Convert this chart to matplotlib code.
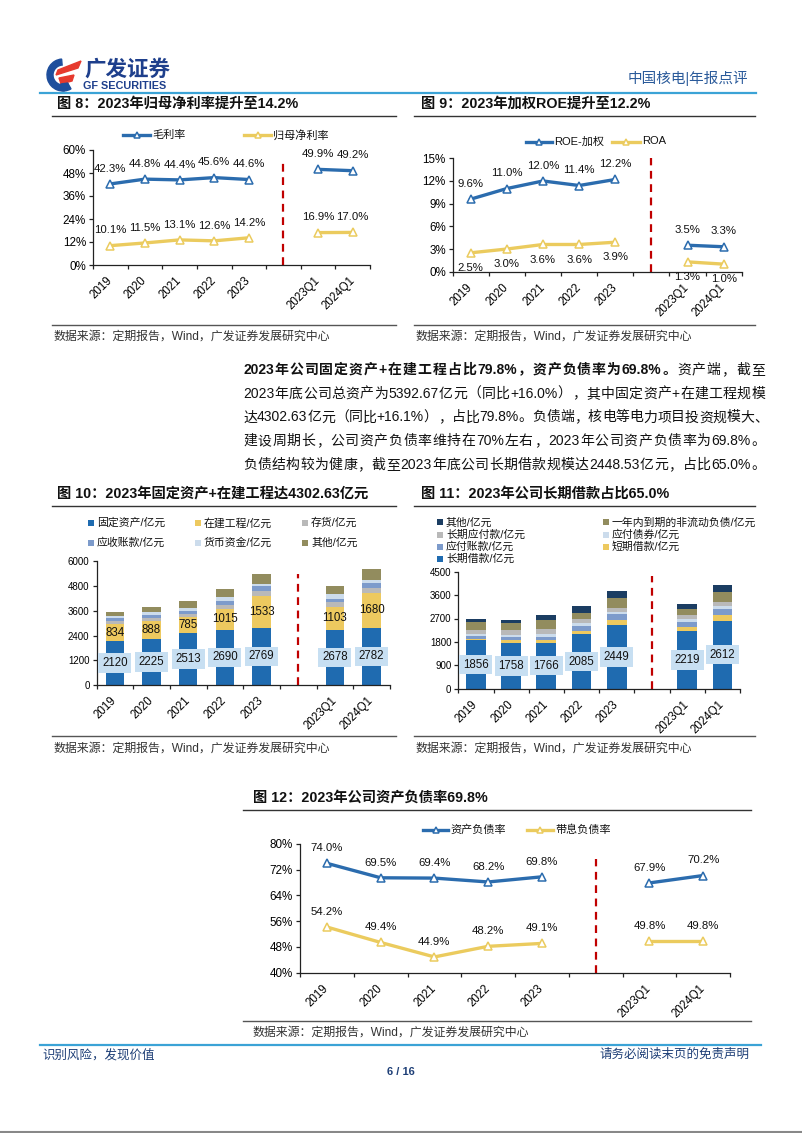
import numpy as np
import matplotlib
matplotlib.use('Agg')
import matplotlib.pyplot as plt
from matplotlib.patches import Rectangle, Wedge, Polygon
from matplotlib.lines import Line2D
import matplotlib.ticker as mticker

plt.rcParams['font.family'] = ['Liberation Sans', 'Noto Sans CJK SC', 'DejaVu Sans']
plt.rcParams['axes.unicode_minus'] = False

W, H = 802, 1133

# ---------------- data ----------------
periods = ['2019', '2020', '2021', '2022', '2023', '2023Q1', '2024Q1']

# Fig 8
gross_margin = [42.3, 44.8, 44.4, 45.6, 44.6, 49.9, 49.2]
net_margin = [10.1, 11.5, 13.1, 12.6, 14.2, 16.9, 17.0]
# Fig 9
roe_weighted = [9.6, 11.0, 12.0, 11.4, 12.2, 3.5, 3.3]
roa = [2.5, 3.0, 3.6, 3.6, 3.9, 1.3, 1.0]
# Fig 10 (亿元)
fixed_assets = [2120, 2225, 2513, 2690, 2769, 2678, 2782]
construction = [834, 888, 785, 1015, 1533, 1103, 1680]
inventory = [160, 160, 160, 190, 260, 226, 260]
receivables = [130, 130, 130, 190, 226, 162, 226]
cash = [113, 145, 160, 170, 97, 226, 162]
other_assets = [194, 243, 307, 395, 485, 388, 534]
# Fig 11 (亿元)
lt_loans = [1856, 1758, 1766, 2085, 2449, 2219, 2612]
st_loans = [65, 128, 90, 128, 205, 167, 205]
acc_payable = [90, 90, 115, 190, 205, 190, 230]
bonds_payable = [90, 100, 150, 128, 100, 90, 128]
lt_payables = [165, 190, 190, 140, 128, 167, 154]
current_ncl = [295, 280, 320, 255, 400, 218, 385]
other_liab = [115, 115, 205, 245, 270, 205, 270]
# Fig 12
debt_ratio = [74.0, 69.5, 69.4, 68.2, 69.8, 67.9, 70.2]
int_debt_ratio = [54.2, 49.4, 44.9, 48.2, 49.1, 49.8, 49.8]

# ---------------- style ----------------
BLUE = '#2B6CAE'
YEL = '#EBCB5E'
RED = '#C00000'
C_FIX = '#1F6BB0'
C_CON = '#EDC95F'
C_INV = '#B9B9B9'
C_REC = '#7D9BCB'
C_CASH = '#CCDCEC'
C_OTH = '#928C5E'
C_NAVY = '#1B3D62'
LBL_BOX = '#C7DFF2'
TXT = '#111111'
SRC = '#333333'

fig = plt.figure(figsize=(W / 100, H / 100), dpi=100)
fig.patch.set_facecolor('white')
renderer = fig.canvas.get_renderer()


def fx(x):
    return x / W


def fy(y):
    return 1 - y / H


def add_ax(l, t, r, b):
    return fig.add_axes([fx(l), fy(b), (r - l) / W, (b - t) / H])


def hline(x0, x1, y, color, lw):
    fig.add_artist(Line2D([fx(x0), fx(x1)], [fy(y), fy(y)], transform=fig.transFigure,
                          color=color, lw=lw))


def ftext(x, y, s, **kw):
    kw.setdefault('ha', 'left')
    kw.setdefault('va', 'center')
    return fig.text(fx(x), fy(y), s, **kw)


positions = np.array([i if i < 5 else i + 1 for i in range(len(periods))])


def style_axes(ax, ylim, ystep, fmt, ytick_fs, dash_top):
    ax.set_xlim(-0.5, 7.5)
    ax.set_ylim(*ylim)
    ax.set_yticks(np.arange(ylim[0], ylim[1] + 1e-9, ystep))
    ax.yaxis.set_major_formatter(mticker.FuncFormatter(fmt))
    for s in ('top', 'right'):
        ax.spines[s].set_visible(False)
    for s in ('left', 'bottom'):
        ax.spines[s].set_linewidth(0.9)
        ax.spines[s].set_color('#222222')
    ax.set_xticks(positions)
    ax.set_xticklabels(periods, rotation=45, ha='right', va='center', rotation_mode='anchor',
                       fontsize=8.3)
    ax.tick_params(axis='x', which='major', length=0, pad=10)
    ax.set_xticks(np.arange(-0.5, 8, 1), minor=True)
    ax.tick_params(axis='x', which='minor', length=3, width=0.9, direction='out', color='#222222')
    ax.tick_params(axis='y', length=3, width=0.9, direction='out', labelsize=ytick_fs, pad=2,
                   color='#222222')
    ax.axvline(5, ymin=0, ymax=dash_top, color=RED, ls=(0, (3.5, 2.5)), lw=1.6)
    ax.set_facecolor('none')


def line_chart(rect, s1, s2, ylim, ystep, off1, off2, dash_top):
    ax = add_ax(*rect)
    for s, c in ((s1, BLUE), (s2, YEL)):
        s = np.array(s, dtype=float)
        for sl in (slice(0, 5), slice(5, 7)):
            ax.plot(positions[sl], s[sl], color=c, lw=2.4, marker='^', ms=5.5,
                    mfc='white', mec=c, mew=1.1, clip_on=False, zorder=3)
    for s, off in ((s1, off1), (s2, off2)):
        for p, v in zip(positions, s):
            ax.annotate(f'{v:.1f}%', (p, v), xytext=(0, off), textcoords='offset points',
                        ha='center', va='center', fontsize=8.2, color=TXT, zorder=4)
    style_axes(ax, ylim, ystep, lambda v, p: f'{v:.0f}%', 8.4, dash_top)
    return ax


def line_legend(y, entries):
    for x0, x1, color, label in entries:
        fig.add_artist(Line2D([fx(x0), fx(x1)], [fy(y), fy(y)], transform=fig.transFigure,
                              color=color, lw=2.4))
        fig.add_artist(Line2D([fx((x0 + x1) / 2)], [fy(y)], transform=fig.transFigure,
                              color=color, marker='^', ms=5, mfc='white', mec=color, mew=1.1))
        ftext(x1 + 2, y, label, fontsize=8.0, color=TXT)


def bar_chart(rect, stack, colors, ylim, ystep, width, box_idx, plain_idx, dash_top):
    ax = add_ax(*rect)
    bottom = np.zeros(len(periods))
    centers = []
    for vals, c in zip(stack, colors):
        vals = np.array(vals, dtype=float)
        ax.bar(positions, vals, width=width, bottom=bottom, color=c, edgecolor='none', zorder=2)
        centers.append(bottom + vals / 2)
        bottom = bottom + vals
    for p, v, cy in zip(positions, stack[box_idx], centers[box_idx]):
        ax.text(p, cy, f'{v:.0f}', ha='center', va='center', fontsize=8.3, color=TXT, zorder=5,
                bbox=dict(boxstyle='square,pad=0.32', fc=LBL_BOX, ec='none'))
    if plain_idx is not None:
        for p, v, cy in zip(positions, stack[plain_idx], centers[plain_idx]):
            ax.text(p, cy, f'{v:.0f}', ha='center', va='center', fontsize=8.3, color=TXT,
                    zorder=5)
    style_axes(ax, ylim, ystep, lambda v, p: f'{v:.0f}', 7.0, dash_top)
    return ax


def square_legend(entries):
    for x, y, color, label in entries:
        fig.add_artist(Rectangle((fx(x), fy(y + 3)), 6 / W, 6 / H, transform=fig.transFigure,
                                 color=color, ec='none'))
        ftext(x + 9, y, label, fontsize=7.8, color=TXT)


def tokenize(segments):
    toks = []
    for s, wgt in segments:
        buf = ''
        for ch in s:
            if ord(ch) < 128:
                buf += ch
            else:
                if buf:
                    toks.append((buf, wgt))
                    buf = ''
                toks.append((ch, wgt))
        if buf:
            toks.append((buf, wgt))
    return toks


def justified_line(y, segments, x0, x1, fs):
    toks = tokenize(segments)
    objs = []
    widths = []
    for tk, wgt in toks:
        t = ftext(x0, y, tk, fontsize=fs, fontweight=wgt, color=TXT)
        objs.append(t)
        widths.append(t.get_window_extent(renderer=renderer).width)
    total = sum(widths)
    gap = max(0.0, (x1 - x0 - total) / max(1, len(toks) - 1))
    x = x0
    for t, w in zip(objs, widths):
        t.set_x(fx(x))
        x += w + gap


# ---------------- header ----------------
logo_ax = fig.add_axes([fx(44), fy(92), 40 / W, 36 / H])
logo_ax.set_xlim(0, 40)
logo_ax.set_ylim(0, 36)
logo_ax.set_aspect('equal')
logo_ax.axis('off')
logo_ax.add_patch(Wedge((19, 17), 16, 95, 300, width=6, color='#1E4E9C'))
logo_ax.add_patch(Polygon([[14, 22], [37, 31], [34, 24], [12, 17]], closed=True, color='#E63A2E'))
logo_ax.add_patch(Polygon([[15, 14], [30, 17], [28, 11], [17, 8]], closed=True, color='#E63A2E'))
logo_ax.add_patch(Polygon([[17, 8], [24, 9], [20, 1], [15, 2]], closed=True, color='#1E4E9C'))

ftext(84, 70, '广发证券', fontsize=15.5, fontweight='bold', color='#1E3F8C')
ftext(83, 86, 'GF SECURITIES', fontsize=7.8, fontweight='bold', color='#1E3F8C')
ftext(748, 78, '中国核电|年报点评', ha='right', fontsize=10.5, color='#2A5A9A')
hline(40, 756, 93, '#3BA3D6', 1.6)

# ---------------- Fig 8 ----------------
ftext(57, 104, '图 8：2023年归母净利率提升至14.2%', fontsize=10.3, fontweight='bold', color=TXT)
hline(52, 396, 115.5, '#333333', 1.0)
line_legend(135, [(123, 150, BLUE, '毛利率'), (244, 271, YEL, '归母净利率')])
line_chart((93, 150, 370, 265), gross_margin, net_margin, (0, 60), 12, 11, 11, 0.89)
hline(52, 396, 325, '#555555', 1.0)
ftext(53, 337, '数据来源：定期报告，Wind，广发证券发展研究中心', fontsize=8.6, color=SRC)

# ---------------- Fig 9 ----------------
ftext(421, 104, '图 9：2023年加权ROE提升至12.2%', fontsize=10.3, fontweight='bold', color=TXT)
hline(414, 755, 115.5, '#333333', 1.0)
line_legend(141.5, [(526, 552, BLUE, 'ROE-加权'), (612, 640, YEL, 'ROA')])
line_chart((452.7, 158.3, 741.7, 271.7), roe_weighted, roa, (0, 15), 3, 11, -11, 1.0)
hline(414, 755, 325, '#555555', 1.0)
ftext(415, 337, '数据来源：定期报告，Wind，广发证券发展研究中心', fontsize=8.6, color=SRC)

# ---------------- paragraph ----------------
PX0, PX1, PFS = 243, 765, 10.0
para = [
    [('2023年公司固定资产+在建工程占比79.8%，资产负债率为69.8%。', 'bold'), ('资产端，截至', 'normal')],
    [('2023年底公司总资产为5392.67亿元（同比+16.0%），其中固定资产+在建工程规模', 'normal')],
    [('达4302.63亿元（同比+16.1%），占比79.8%。负债端，核电等电力项目投资规模大、', 'normal')],
    [('建设周期长，公司资产负债率维持在70%左右，2023年公司资产负债率为69.8%。', 'normal')],
    [('负债结构较为健康，截至2023年底公司长期借款规模达2448.53亿元，占比65.0%。', 'normal')],
]
for i, segs in enumerate(para):
    justified_line(370 + i * 23.7, segs, PX0, PX1, PFS)

# ---------------- Fig 10 ----------------
ftext(57, 494, '图 10：2023年固定资产+在建工程达4302.63亿元', fontsize=10.3, fontweight='bold',
      color=TXT)
hline(52, 396, 505.5, '#333333', 1.0)
square_legend([
    (88, 523, C_FIX, '固定资产/亿元'), (195, 523, C_CON, '在建工程/亿元'), (302, 523, C_INV, '存货/亿元'),
    (88, 543, C_REC, '应收账款/亿元'), (195, 543, C_CASH, '货币资金/亿元'), (302, 543, C_OTH, '其他/亿元'),
])
bar_chart((96.5, 561.3, 390, 685),
          [fixed_assets, construction, inventory, receivables, cash, other_assets],
          [C_FIX, C_CON, C_INV, C_REC, C_CASH, C_OTH],
          (0, 6000), 1200, 0.5, 0, 1, 0.9)
hline(52, 396, 736, '#555555', 1.0)
ftext(53, 749, '数据来源：定期报告，Wind，广发证券发展研究中心', fontsize=8.6, color=SRC)

# ---------------- Fig 11 ----------------
ftext(421, 494, '图 11：2023年公司长期借款占比65.0%', fontsize=10.3, fontweight='bold', color=TXT)
hline(414, 755, 505.5, '#333333', 1.0)
square_legend([
    (437, 522.3, C_NAVY, '其他/亿元'), (603, 522.3, C_OTH, '一年内到期的非流动负债/亿元'),
    (437, 534.5, C_INV, '长期应付款/亿元'), (603, 534.5, C_CASH, '应付债券/亿元'),
    (437, 546.7, C_REC, '应付账款/亿元'), (603, 546.7, C_CON, '短期借款/亿元'),
    (437, 559, C_FIX, '长期借款/亿元'),
])
bar_chart((458.3, 571.7, 740, 688.7),
          [lt_loans, st_loans, acc_payable, bonds_payable, lt_payables, current_ncl, other_liab],
          [C_FIX, C_CON, C_REC, C_CASH, C_INV, C_OTH, C_NAVY],
          (0, 4500), 900, 0.56, 0, None, 0.96)
hline(414, 755, 736, '#555555', 1.0)
ftext(415, 749, '数据来源：定期报告，Wind，广发证券发展研究中心', fontsize=8.6, color=SRC)

# ---------------- Fig 12 ----------------
ftext(253, 798, '图 12：2023年公司资产负债率69.8%', fontsize=10.3, fontweight='bold', color=TXT)
hline(243, 751, 809.5, '#333333', 1.0)
line_legend(830, [(423, 448, BLUE, '资产负债率'), (527, 553, YEL, '带息负债率')])
line_chart((300, 844, 730, 972.7), debt_ratio, int_debt_ratio, (40, 80), 8, 11, 11, 0.88)
hline(243, 751, 1021, '#555555', 1.0)
ftext(252, 1033, '数据来源：定期报告，Wind，广发证券发展研究中心', fontsize=8.6, color=SRC)

# ---------------- footer ----------------
hline(40, 761, 1045, '#3BA3D6', 1.6)
ftext(42, 1055, '识别风险，发现价值', fontsize=9, color='#1E3F77')
ftext(750, 1055, '请务必阅读末页的免责声明', ha='right', fontsize=9, color='#1E3F77')
ftext(401, 1072, '6 / 16', ha='center', fontsize=8, fontweight='bold', color='#1E3F77')
hline(0, 802, 1131.5, '#888888', 1.5)

fig.savefig('out.png', dpi=100, facecolor='white')
